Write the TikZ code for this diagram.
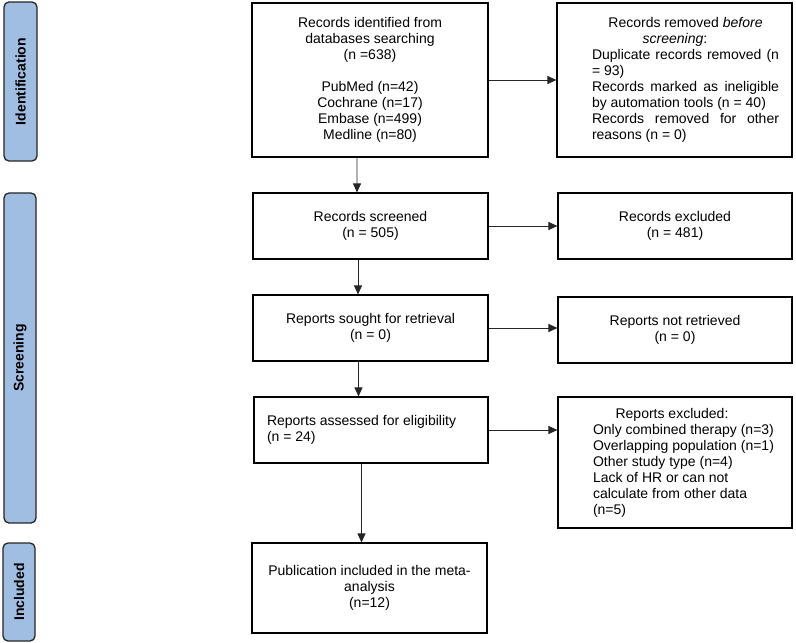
\documentclass[tikz,border=0pt]{standalone}
\usepackage{fontspec}
\setmainfont{Liberation Sans}
\usetikzlibrary{arrows.meta}
\definecolor{barblue}{RGB}{160,190,226}
\newcommand\boxfont{\fontsize{14bp}{16bp}\selectfont}
\begin{document}
\begin{tikzpicture}[x=1bp,y=-1bp,
  box/.style 2 args={draw=black, line width=1.1bp, minimum width=#1, minimum height=#2,
    inner sep=0pt, font=\boxfont, align=center},
  phase/.style 2 args={draw=black!85, fill=barblue, line width=1.3bp, rounded corners=5bp,
    minimum width=#1, minimum height=#2, inner sep=0pt, rotate=90,
    font=\fontsize{14bp}{16bp}\selectfont\bfseries},
  conn/.style={draw=black!85, line width=0.9bp, -{Triangle[length=9bp,width=8bp]}}
]
\useasboundingbox (0,0) rectangle (796,643);

% phase bars
\node[phase={159bp}{33bp}] (p1) at (20.5,81.5) {Identification};
\node[phase={330bp}{32bp}] (p2) at (20,358) {Screening};
\node[phase={98bp}{32bp}] (p3) at (19,592) {Included};

% main column
\node[box={236bp}{154bp}] (a1) at (370,80) {Records identified from\\databases searching\\(n =638)\\[16bp]PubMed (n=42)\\Cochrane (n=17)\\Embase (n=499)\\Medline (n=80)};
\node[box={235bp}{66bp}] (a2) at (370.5,226) {Records screened\\(n = 505)};
\node[box={235bp}{66bp}] (a3) at (370.5,328) {Reports sought for retrieval\\(n = 0)};
\node[box={234bp}{66bp}] (a4) at (371,430) {\parbox{200bp}{\raggedright Reports assessed for eligibility\\(n = 24)}\hspace*{8bp}};
\node[box={235bp}{90bp}] (a5) at (369.5,588) {Publication included in the meta-\\analysis\\(n=12)};

% right column
\node[box={235bp}{154bp}] (r1) at (674.5,80) {\hspace*{22bp}\parbox{187bp}{%
  {\centering Records removed \textit{before}\hspace*{21bp}\\\textit{screening}:\hspace*{21bp}\par}
  Duplicate records removed (n\linebreak = 93)\par
  Records marked as ineligible\linebreak by automation tools (n = 40)\par
  Records removed for other\linebreak reasons (n = 0)}};
\node[box={234bp}{66bp}] (r2) at (675,226) {Records excluded\\(n = 481)};
\node[box={234bp}{66bp}] (r3) at (675,330) {Reports not retrieved\\(n = 0)};
\node[box={234bp}{131bp}] (r4) at (675,462.5) {\hspace*{24bp}\parbox{188bp}{%
  {\centering Reports excluded:\hspace*{30bp}\par}
  \raggedright Only combined therapy (n=3)\\Overlapping population (n=1)\\Other study type (n=4)\\Lack of HR or can not\\calculate from other data\\(n=5)}};

% connectors
\draw[conn] ([xshift=-13bp]a1.south) -- ([xshift=-13.5bp]a2.north);
\draw[conn] ([xshift=-12.5bp]a2.south) -- ([xshift=-12.5bp]a3.north);
\draw[conn] ([xshift=-12bp]a3.south) -- ([xshift=-12.5bp]a4.north);
\draw[conn] ([xshift=-9.5bp]a4.south) -- ([xshift=-8bp]a5.north);
\draw[conn] (a1.east) -- (r1.west);
\draw[conn] (a2.east) -- (r2.west);
\draw[conn] (a3.east) -- (a3.east -| r3.west);
\draw[conn] (a4.east) -- (a4.east -| r4.west);
\end{tikzpicture}
\end{document}
